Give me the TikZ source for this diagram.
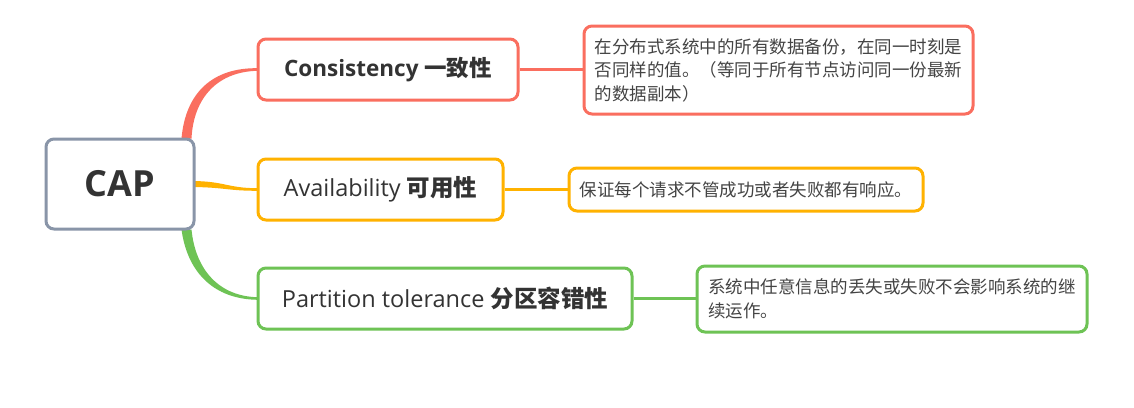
\documentclass[tikz,border=0pt]{standalone}
\usepackage{fontspec}
\setmainfont{Open Sans}
\newfontfamily\cjk{Noto Sans CJK SC}
\usetikzlibrary{calc}
\definecolor{capc}{RGB}{137,149,168}
\definecolor{redc}{RGB}{250,110,95}
\definecolor{orc}{RGB}{255,178,0}
\definecolor{grc}{RGB}{110,195,85}
\definecolor{txt}{RGB}{51,51,51}
\definecolor{dtxt}{RGB}{68,68,68}
\begin{document}
\begin{tikzpicture}[x=1pt,y=-1pt,
  box/.style={draw, line width=3pt, rounded corners=8pt, fill=white, inner sep=0pt, text=txt},
  mainbox/.style={box, minimum height=61pt, font=\fontsize{23.5}{27}\selectfont},
  descbox/.style={box, text=dtxt, align=left, font=\cjk\fontsize{17.5}{23.5}\selectfont},
  link/.style={line width=2.5pt}
]
\useasboundingbox[fill=white] (0,0) rectangle (1134,407);

% tapered branches (drawn first, nodes cover their ends)
\coordinate (c0) at (120,184);
\node[box, draw=none, fill=none, minimum width=148pt, minimum height=90pt] (capg) at (c0) {};
\node[draw=none, minimum width=260pt, minimum height=61pt, inner sep=0pt] (consg) at (388,69.5) {};
\node[draw=none, minimum width=245pt, minimum height=61pt, inner sep=0pt] (availg) at (380.5,189.5) {};
\node[draw=none, minimum width=374pt, minimum height=61pt, inner sep=0pt] (partg) at (445,298.5) {};

\fill[redc] ($(capg.north east)+(-14,1)$) .. controls ($(capg.north east)+(-10,-45)$) and ($(consg.west)+(-45,-2)$) .. ($(consg.west)+(0,-1.3)$)
  -- ($(consg.west)+(0,1.3)$) .. controls ($(consg.west)+(-40,2)$) and ($(capg.north east)+(-2,-40)$) .. ($(capg.north east)+(-4,1)$) -- cycle;
\fill[orc] ($(capg.east)+(-2,-3)$) .. controls ($(capg.east)+(30,-2.5)$) and ($(availg.west)+(-30,-1.3)$) .. ($(availg.west)+(0,-1.3)$)
  -- ($(availg.west)+(0,1.3)$) .. controls ($(availg.west)+(-30,1.3)$) and ($(capg.east)+(30,3.5)$) .. ($(capg.east)+(-2,3)$) -- cycle;
\fill[grc] ($(capg.south east)+(-14,-1)$) .. controls ($(capg.south east)+(-8,43)$) and ($(partg.west)+(-43,0.8)$) .. ($(partg.west)+(0,1.3)$)
  -- ($(partg.west)+(0,-1.3)$) .. controls ($(partg.west)+(-38,-2)$) and ($(capg.south east)+(0,40)$) .. ($(capg.south east)+(-4,-1)$) -- cycle;

% nodes
\node[box, draw=capc, minimum width=148pt, minimum height=90pt, font=\fontsize{36}{42}\selectfont\bfseries] (cap) at (c0) {CAP};
\node[mainbox, draw=redc, minimum width=260pt, font=\fontsize{22.5}{27}\selectfont] (cons) at (388,69.5) {\textbf{Consistency} {\cjk\bfseries 一致性}};
\node[mainbox, draw=orc, minimum width=245pt] (avail) at (380.5,189.5) {Availability {\cjk\bfseries 可用性}};
\node[mainbox, draw=grc, minimum width=374pt] (part) at (445,298.5) {Partition tolerance {\cjk\bfseries 分区容错性}};

\node[descbox, draw=redc, minimum width=389pt, minimum height=88pt] (d1) at (778.5,70) {在分布式系统中的所有数据备份，在同一时刻是\\否同样的值。（等同于所有节点访问同一份最新\\的数据副本）};
\node[descbox, draw=orc, minimum width=354pt, minimum height=43pt] (d2) at (746,189.5) {保证每个请求不管成功或者失败都有响应。};
\node[descbox, draw=grc, minimum width=390pt, minimum height=66pt] (d3) at (892,299) {系统中任意信息的丢失或失败不会影响系统的继\\续运作。};

% links
\draw[link, redc] (cons.east) -- (cons.east -| d1.west);
\draw[link, orc] (avail.east) -- (avail.east -| d2.west);
\draw[link, grc] (part.east) -- (part.east -| d3.west);
\end{tikzpicture}
\end{document}
